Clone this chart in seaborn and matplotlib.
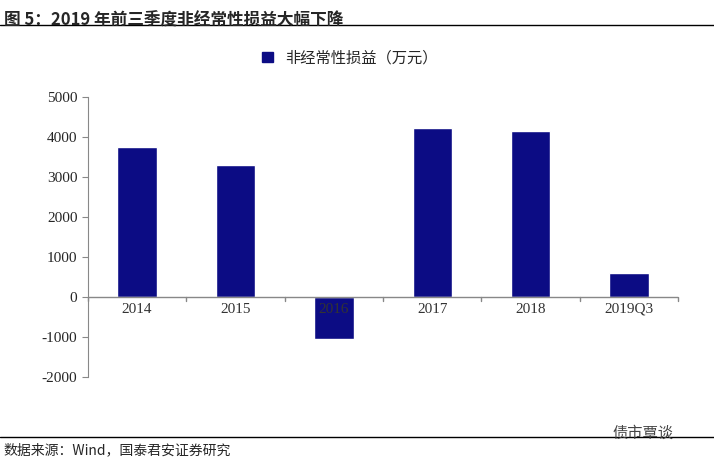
import matplotlib
matplotlib.use("Agg")
import matplotlib.pyplot as plt
import seaborn as sns
import pandas as pd
import numpy as np

categories = ["2014", "2015", "2016", "2017", "2018", "2019Q3"]
values = [3760, 3300, -1060, 4230, 4150, 600]
yticks = [-2000, -1000, 0, 1000, 2000, 3000, 4000, 5000]

sns.set_style("white")
plt.rcParams['font.family'] = ['Noto Sans CJK SC', 'DejaVu Sans']

df = pd.DataFrame({"cat": categories, "val": values})
fig = plt.figure(figsize=(7.14, 4.63), dpi=100)
ax = fig.add_axes([0.123, 0.186, 0.827, 0.604])
sns.barplot(data=df, x="cat", y="val", color="#0C0C84", width=0.4, ax=ax, saturation=1)
ax.set_ylim(-2000, 5000)
ax.set_xlim(-0.5, len(categories) - 0.5)
ax.set_yticks(yticks)
ax.set_yticklabels([str(t) for t in yticks], family="Liberation Serif", fontsize=11)
ax.set_xlabel(""); ax.set_ylabel("")
for s in ["top", "right", "bottom"]:
    ax.spines[s].set_visible(False)
ax.spines["left"].set_color("#888888")
ax.axhline(0, color="#888888", lw=1)
ax.tick_params(axis="y", length=4, color="#888888", direction="out", left=True)
ax.set_xticks([])
for b in np.arange(-0.5, len(categories), 1.0):
    ax.plot([b, b], [0, -100], color="#888888", lw=1, clip_on=False)
for i, c in enumerate(categories):
    ax.text(i, -150, c, ha="center", va="top", family="Liberation Serif", fontsize=11, color="#333333")

from matplotlib.patches import Patch
fig.legend(handles=[Patch(color="#0C0C84")], labels=["非经常性损益（万元）"], loc="center",
           bbox_to_anchor=(0.49, 0.875), frameon=False, fontsize=11, handlelength=0.7, handleheight=0.7)

fig.text(0.005, 0.975, "图 5：2019 年前三季度非经常性损益大幅下降", fontsize=12, fontweight="bold", va="top")
fig.add_artist(plt.Line2D([0, 1], [0.945, 0.945], color="black", lw=1))
fig.add_artist(plt.Line2D([0, 1], [0.057, 0.057], color="black", lw=1))
fig.text(0.005, 0.027, "数据来源：Wind，国泰君安证券研究", fontsize=10, va="center")
fig.text(0.9, 0.065, "债市覃谈", fontsize=11, color="#444444", va="center", ha="center")
fig.savefig("out.png", dpi=100)
